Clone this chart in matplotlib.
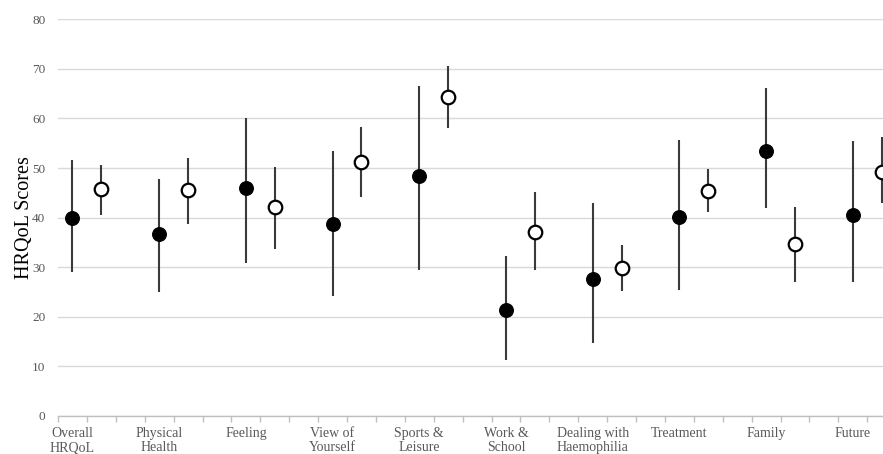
import matplotlib
matplotlib.use("Agg")
import matplotlib.pyplot as plt
import numpy as np

categories = ["Overall\nHRQoL", "Physical\nHealth", "Feeling", "View of\nYourself",
              "Sports &\nLeisure", "Work &\nSchool", "Dealing with\nHaemophilia",
              "Treatment", "Family", "Future"]
filled_mean = [40.0, 36.8, 46.0, 38.7, 48.5, 21.3, 27.6, 40.1, 53.5, 40.5]
filled_low  = [29.1, 25.0, 30.9, 24.1, 29.4, 11.3, 14.7, 25.5, 42.0, 27.1]
filled_high = [51.6, 47.7, 60.0, 53.5, 66.6, 32.3, 42.9, 55.6, 66.2, 55.4]
open_mean = [45.7, 45.6, 42.2, 51.2, 64.3, 37.2, 29.8, 45.4, 34.7, 49.3]
open_low  = [40.5, 38.8, 33.6, 44.2, 58.0, 29.4, 25.2, 41.1, 27.0, 42.9]
open_high = [50.6, 52.1, 50.3, 58.3, 70.6, 45.1, 34.5, 49.9, 42.2, 56.2]
y_ticks = [0, 10, 20, 30, 40, 50, 60, 70, 80]

plt.rcParams['font.family'] = ['Liberation Serif', 'DejaVu Serif']

fig = plt.figure(figsize=(8.83, 4.54), dpi=100)
ax = fig.add_axes([58/883, 38/454, 1 - 58/883, (416 - 19.3)/454])

n = len(categories)
xf = np.arange(n) * 3 + 0.5
xo = np.arange(n) * 3 + 1.5

fm = np.array(filled_mean); om = np.array(open_mean)
ax.errorbar(xf, fm, yerr=[fm - np.array(filled_low), np.array(filled_high) - fm],
            fmt='none', ecolor='#3a3a3a', elinewidth=1.5, capsize=0, zorder=2)
ax.errorbar(xo, om, yerr=[om - np.array(open_low), np.array(open_high) - om],
            fmt='none', ecolor='#3a3a3a', elinewidth=1.5, capsize=0, zorder=2)
ax.scatter(xf, fm, s=95, color='black', edgecolors='black', linewidths=1, zorder=3)
ax.scatter(xo, om, s=95, color='white', edgecolors='black', linewidths=1.6, zorder=3)

ax.set_xlim(0, 825/28.9)
ax.set_ylim(0, 80)
ax.set_yticks(y_ticks)
ax.yaxis.grid(True, color='#d9d9d9', linewidth=1)
ax.set_axisbelow(True)
for s in ['top', 'right', 'left']:
    ax.spines[s].set_visible(False)
ax.spines['bottom'].set_color('#bfbfbf')
ax.spines['bottom'].set_linewidth(1)

ax.tick_params(axis='y', length=0, pad=9, labelcolor='#595959', labelsize=9.5)
ax.set_xticks(xf)
ax.set_xticklabels(categories)
ax.set_xticks(np.arange(0, 29), minor=True)
ax.tick_params(axis='x', which='major', length=0, pad=8, labelcolor='#595959', labelsize=10)
ax.tick_params(axis='x', which='minor', length=4, color='#bfbfbf', width=1)
for lbl in ax.get_xticklabels():
    lbl.set_linespacing(1.1)

ax.set_ylabel("HRQoL Scores", fontsize=14.5, color='black', labelpad=-1)

fig.savefig("out.png", dpi=100)
